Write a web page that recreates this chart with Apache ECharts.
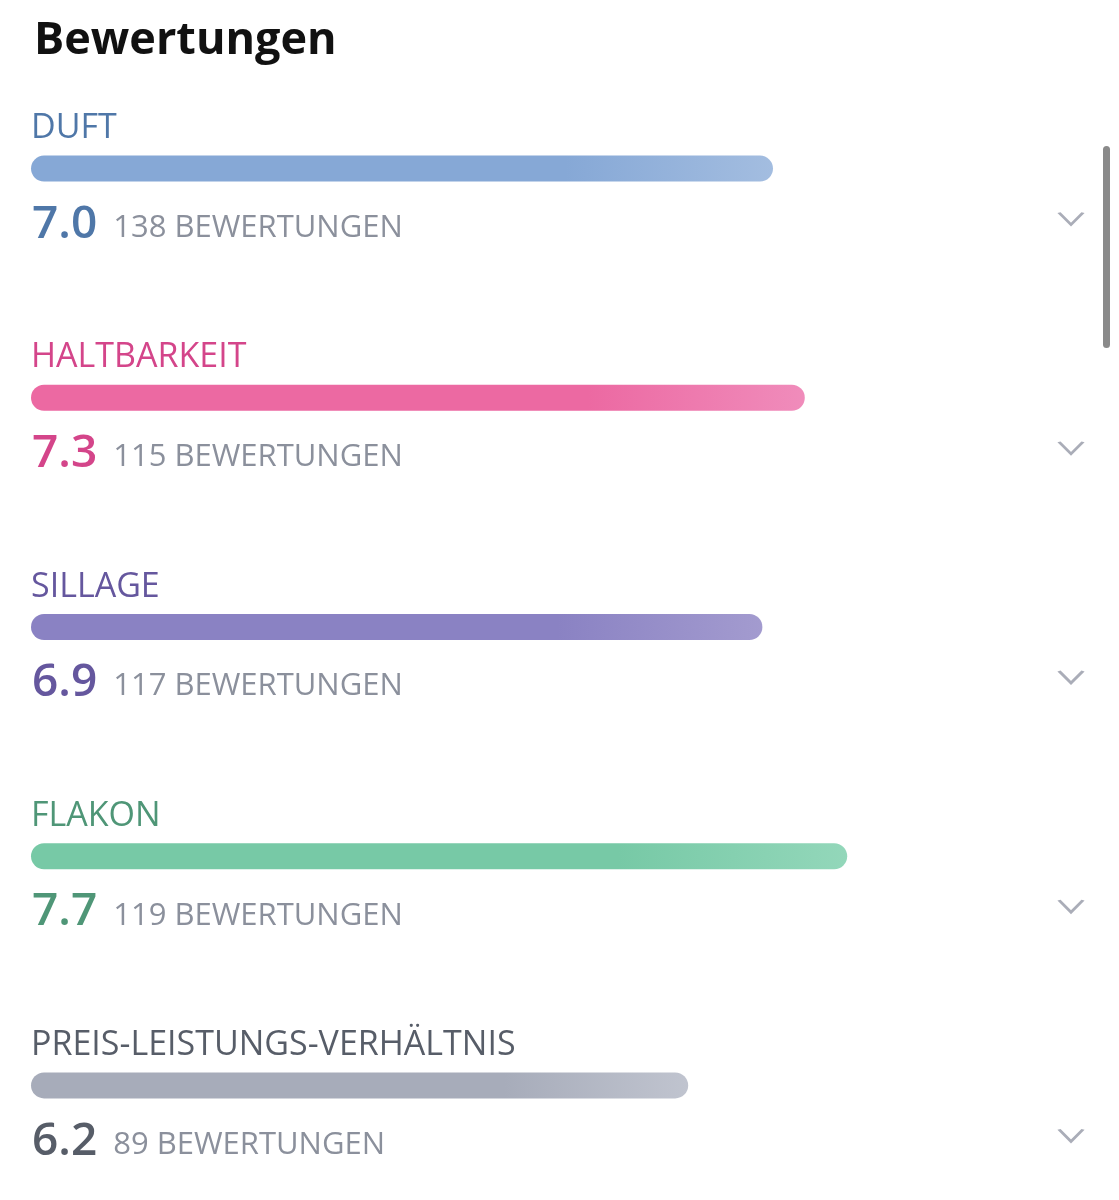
<!DOCTYPE html>
<html>
<head>
<meta charset="UTF-8">
<title>Bewertungen</title>
<style>
  html, body { margin: 0; padding: 0; background: #fff; }
  #chart { width: 1119px; height: 1200px; }
</style>
</head>
<body>
<div id="chart"></div>
<script src="https://cdn.jsdelivr.net/npm/echarts@6/dist/echarts.min.js"></script>
<script>
// Daten
var categories = ['DUFT', 'HALTBARKEIT', 'SILLAGE', 'FLAKON', 'PREIS-LEISTUNGS-VERHÄLTNIS'];
var scores = [7.0, 7.3, 6.9, 7.7, 6.2];
var counts = [138, 115, 117, 119, 89];

// Farben je Kategorie
var textColors = ['#4f77a8', '#d4458a', '#65579e', '#4f9677', '#575d68'];
var barStart = ['#86a8d6', '#ec69a2', '#8a82c3', '#77c9a6', '#a7acba'];
var barEnd = ['#a3bde0', '#f08cbb', '#a39bcf', '#93d7ba', '#c0c4cf'];

var chart = echarts.init(document.getElementById('chart'));

var richNames = {};
categories.forEach(function (c, i) {
  richNames['n' + i] = { fontSize: 34, color: textColors[i], fontFamily: 'Open Sans', padding: [0, 0, 80, 0] };
});

var barData = scores.map(function (v, i) {
  return {
    value: v,
    itemStyle: {
      color: new echarts.graphic.LinearGradient(0, 0, 1, 0, [
        { offset: 0, color: barStart[i] },
        { offset: 0.72, color: barStart[i] },
        { offset: 1, color: barEnd[i] }
      ])
    },
    label: {
      formatter: '{s|' + v.toFixed(1) + '}{c|' + counts[i] + ' BEWERTUNGEN}',
      rich: {
        s: { fontSize: 46, fontWeight: 600, color: textColors[i], fontFamily: 'Open Sans', verticalAlign: 'bottom', lineHeight: 56 },
        c: { fontSize: 31, color: '#8b909c', fontFamily: 'Open Sans', padding: [0, 0, 4, 16], verticalAlign: 'bottom', lineHeight: 56 }
      }
    }
  };
});

var option = {
  animation: false,
  backgroundColor: '#ffffff',
  title: {
    text: 'Bewertungen',
    left: 29,
    top: 14,
    textStyle: { fontSize: 45, fontWeight: 'bold', color: '#111111', fontFamily: 'Open Sans' }
  },
  grid: { left: 31, top: 54, width: 1060, height: 1150 },
  xAxis: {
    type: 'value', min: 0, max: 10,
    show: false
  },
  yAxis: {
    type: 'category',
    data: categories,
    inverse: true,
    axisLine: { show: false },
    axisTick: { show: false },
    axisLabel: {
      inside: true,
      margin: 0,
      align: 'left',
      formatter: function (value, index) {
        return '{n' + index + '|' + value + '}';
      },
      rich: richNames
    }
  },
  series: [
    {
      type: 'bar',
      data: barData,
      barWidth: 26,
      itemStyle: { borderRadius: 13 },
      label: {
        show: true,
        position: [1, 64],
        align: 'left',
        verticalAlign: 'middle'
      }
    },
    {
      // Aufklapp-Pfeile rechts
      type: 'scatter',
      data: categories.map(function (c) { return [10, c]; }),
      symbol: 'path://M0,0 L12,12 L24,0',
      symbolSize: [24, 12],
      symbolOffset: [-20, 50],
      itemStyle: { color: 'none', borderColor: '#9599a6', borderWidth: 2.5 },
      silent: true
    }
  ],
  graphic: [
    {
      type: 'rect',
      shape: { x: 1103, y: 146, width: 7, height: 202, r: 3.5 },
      style: { fill: '#8a8a8a' }
    }
  ]
};

chart.setOption(option);
</script>
</body>
</html>
